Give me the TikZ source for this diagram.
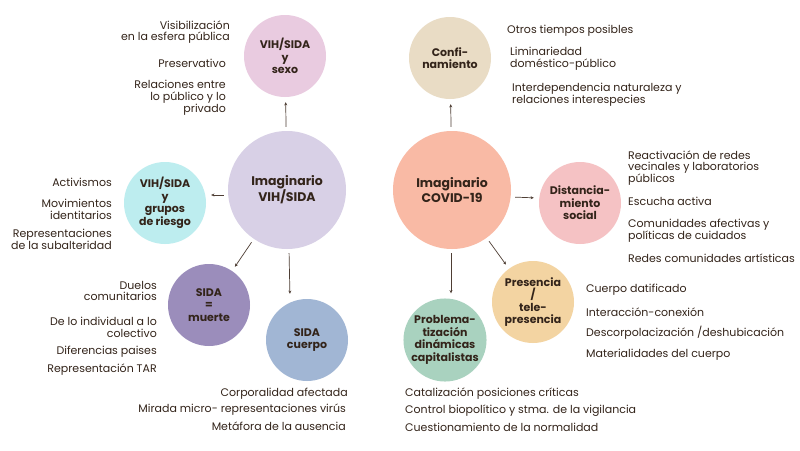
\documentclass[tikz,border=0pt]{standalone}
\usepackage{fontspec}
\setmainfont{Poppins}
\usepackage{tikz}
\usetikzlibrary{arrows.meta,positioning,calc}

\definecolor{ink}{HTML}{33241A}
\definecolor{arrink}{HTML}{4E3E34}
\definecolor{cSexo}{HTML}{E9CBE0}
\definecolor{cVih}{HTML}{D8D0E6}
\definecolor{cGrupos}{HTML}{BDEDEF}
\definecolor{cMuerte}{HTML}{9B8DBB}
\definecolor{cCuerpo}{HTML}{A1B6D4}
\definecolor{cConf}{HTML}{E9DCC5}
\definecolor{cCov}{HTML}{F9BAA5}
\definecolor{cDist}{HTML}{F5C2C4}
\definecolor{cPres}{HTML}{F3D4A2}
\definecolor{cProb}{HTML}{A9D2BF}

\begin{document}
\begin{tikzpicture}[
  x=1pt,y=-1pt,
  bub/.style={circle,inner sep=0pt,minimum size=82pt,align=center,text=ink,
    font=\fontsize{11}{12.5}\selectfont\bfseries},
  big/.style={circle,inner sep=0pt,minimum size=118pt,align=center,text=ink,
    font=\fontsize{12.5}{15}\selectfont\bfseries},
  labl/.style={anchor=west,align=left,text=ink,inner sep=0pt,
    font=\fontsize{11}{11.8}\selectfont},
  labr/.style={anchor=east,align=right,text=ink,inner sep=0pt,
    font=\fontsize{11}{11.8}\selectfont},
  arr/.style={-{Stealth[length=3.2pt,width=3pt]},line width=0.7pt,draw=arrink,
    shorten <=4pt,shorten >=5pt}
]
\useasboundingbox[fill=white] (0,0) rectangle (800,450);

% -------------------------
% Left: Imaginario VIH/SIDA
% -------------------------
\node[big,fill=cVih] (vih) at (287,190) {Imaginario\\VIH/SIDA};
\node[bub,fill=cSexo] (sexo) at (285,56) {VIH/SIDA\\y\\sexo};
\node[bub,fill=cGrupos] (grupos) at (165,203) {VIH/SIDA\\y\\grupos\\de riesgo};
\node[bub,fill=cMuerte] (muerte) at (209,305) {SIDA\\=\\muerte};
\node[bub,fill=cCuerpo] (cuerpo) at (307,340) {SIDA\\cuerpo};

\draw[arr] (vih) -- (sexo);
\draw[arr] ([yshift=-5pt]vih.west) -- ([yshift=8pt]grupos.east);
\draw[arr] (vih) -- (muerte);
\draw[arr] ([xshift=2pt]vih.south) -- ([xshift=-17pt]cuerpo.north);

% labels round VIH/SIDA
\node[labr] (s1) at (230,32) {Visibilización\\en la esfera pública};
\node[labr] (s2) at (226,63) {Preservativo};
\node[labr] (s3) at (226,98) {Relaciones entre\\lo público y lo\\privado};

\node[labr] (g1) at (112,182) {Activismos};
\node[labr] (g2) at (112,209) {Movimientos\\identitarios};
\node[labr] (g3) at (112,239) {Representaciones\\de la subalteridad};

\node[labr] (m1) at (157,291) {Duelos\\comunitarios};
\node[labr] (m2) at (157,327) {De lo individual a lo\\colectivo};
\node[labr] (m3) at (157,352) {Diferencias paises};
\node[labr] (m4) at (157,370) {Representación TAR};

\node[labr] (c1) at (348,394) {Corporalidad afectada};
\node[labr] (c2) at (346,410) {Mirada micro- representaciones virús};
\node[labr] (c3) at (346,426) {Metáfora de la ausencia};

% -------------------------
% Right: Imaginario COVID-19
% -------------------------
\node[big,fill=cCov] (cov) at (452,190) {Imaginario\\COVID-19};
\node[bub,fill=cConf] (conf) at (450,58) {Confi-\\namiento};
\node[bub,fill=cDist] (dist) at (580,203) {Distancia-\\miento\\social};
\node[bub,fill=cPres] (pres) at (533,302) {Presencia\\/\\tele-\\presencia};
\node[bub,fill=cProb] (prob) at (445,340) {Problema-\\tización\\dinámicas\\capitalistas};

\draw[arr] (cov) -- (conf);
\draw[arr] ([yshift=-7pt]cov.east) -- ([yshift=5pt]dist.west);
\draw[arr] (cov) -- (pres);
\draw[arr] ([xshift=-1pt]cov.south) -- ([xshift=6pt]prob.north);

% labels round COVID-19
\node[labl] (k1) at (507,31) {Otros tiempos posibles};
\node[labl] (k2) at (510,59) {Liminariedad\\doméstico-público};
\node[labl] (k3) at (512,95) {Interdependencia naturaleza y\\relaciones interespecies};

\node[labl] (d1) at (628,168) {Reactivación de redes\\vecinales y laboratorios\\públicos};
\node[labl] (d2) at (628,201) {Escucha activa};
\node[labl] (d3) at (628,231) {Comunidades afectivas y\\políticas de cuidados};
\node[labl] (d4) at (628,258) {Redes comunidades artísticas};

\node[labl] (p1) at (586,290) {Cuerpo datificado};
\node[labl] (p2) at (586,312) {Interacción-conexión};
\node[labl] (p3) at (586,333) {Descorpolacización /deshubicación};
\node[labl] (p4) at (586,355) {Materialidades del cuerpo};

\node[labl] (q1) at (405,394) {Catalización posiciones críticas};
\node[labl] (q2) at (405,411) {Control biopolítico y stma. de la vigilancia};
\node[labl] (q3) at (405,427) {Cuestionamiento de la normalidad};

\end{tikzpicture}
\end{document}
